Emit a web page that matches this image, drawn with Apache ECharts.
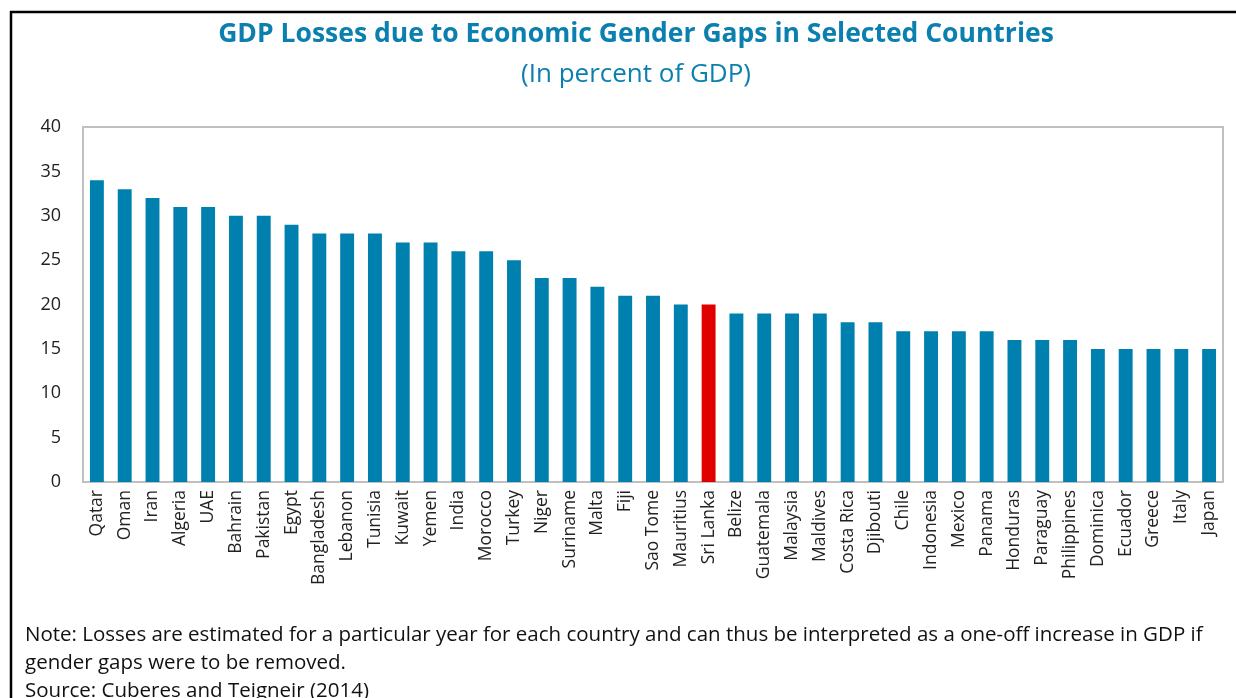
<!DOCTYPE html>
<html><head><meta charset="utf-8">
<script src="https://cdn.jsdelivr.net/npm/echarts@6/dist/echarts.min.js"></script>
<style>html,body{margin:0;padding:0;background:#fff}#c{width:1236px;height:698px}</style>
</head><body><div id="c"></div>
<script>
const categories = ["Qatar","Oman","Iran","Algeria","UAE","Bahrain","Pakistan","Egypt","Bangladesh","Lebanon","Tunisia","Kuwait","Yemen","India","Morocco","Turkey","Niger","Suriname","Malta","Fiji","Sao Tome","Mauritius","Sri Lanka","Belize","Guatemala","Malaysia","Maldives","Costa Rica","Djibouti","Chile","Indonesia","Mexico","Panama","Honduras","Paraguay","Philippines","Dominica","Ecuador","Greece","Italy","Japan"];
const values = [34,33,32,31,31,30,30,29,28,28,28,27,27,26,26,25,23,23,22,21,21,20,20,19,19,19,19,18,18,17,17,17,17,16,16,16,15,15,15,15,15];
const highlight = "Sri Lanka";
const yTicks = {min:0, max:40, interval:5};
const titleText = "GDP Losses due to Economic Gender Gaps in Selected Countries";
const subtitleText = "(In percent of GDP)";
const noteLines = ["Note: Losses are estimated for a particular year for each country and can thus be interpreted as a one-off increase in GDP if","gender gaps were to be removed.","Source: Cuberes and Teigneir (2014)"];

const FONT = "Open Sans";
const chart = echarts.init(document.getElementById('c'));
chart.setOption({
  animation:false,
  backgroundColor:'#fff',
  title:[
    {text:titleText,left:631,textAlign:'center',top:16,textStyle:{fontFamily:FONT,fontSize:26.5,fontWeight:'bold',color:'#0b80b0'}},
    {text:subtitleText,left:631,textAlign:'center',top:57,textStyle:{fontFamily:FONT,fontSize:26,fontWeight:'normal',color:'#0b80b0'}}
  ],
  grid:{left:83,right:13,top:127,bottom:216,show:true,borderColor:'#c0c0c0',borderWidth:2,containLabel:false},
  xAxis:{type:'category',data:categories,
    axisLine:{lineStyle:{color:'#c0c0c0',width:2}},axisTick:{show:false},
    axisLabel:{rotate:90,interval:0,fontFamily:FONT,fontSize:17.5,color:'#222',margin:8}},
  yAxis:{type:'value',min:yTicks.min,max:yTicks.max,interval:yTicks.interval,
    splitLine:{show:false},axisLine:{show:false},axisTick:{show:false},
    axisLabel:{fontFamily:FONT,fontSize:18,color:'#222',margin:22}},
  series:[{type:'bar',barWidth:'50%',
    data:values.map((v,i)=>({value:v,itemStyle:{color:categories[i]===highlight?'#e00000':'#0080ae'}}))}],
  graphic:[
    {type:'line',shape:{x1:10,y1:12,x2:1236,y2:12},style:{stroke:'#000',lineWidth:2.5}},
    {type:'line',shape:{x1:11,y1:11,x2:11,y2:698},style:{stroke:'#000',lineWidth:2.5}},
    {type:'text',left:25,top:621,style:{text:noteLines.join('\n'),font:'20.5px "Open Sans"',fill:'#111',lineHeight:28}}
  ]
});
</script></body></html>
